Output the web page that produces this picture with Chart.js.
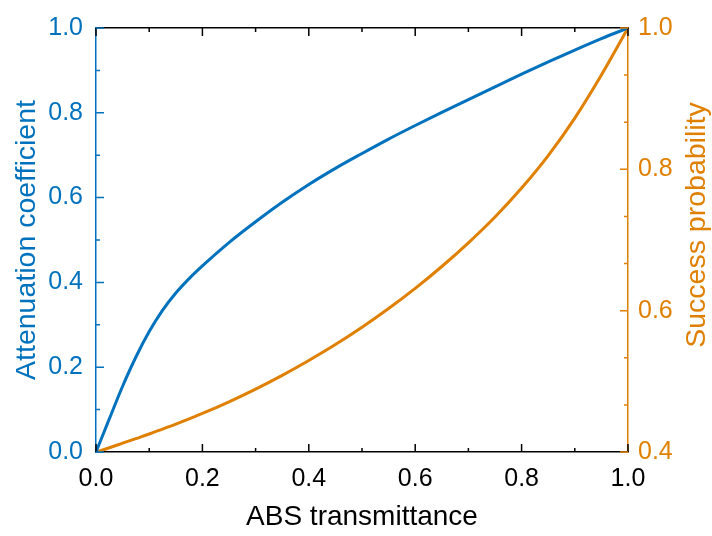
<!DOCTYPE html>
<html>
<head>
<meta charset="utf-8">
<script src="https://cdn.jsdelivr.net/npm/chart.js@4.4.1/dist/chart.umd.min.js"></script>
<style>
  html, body { margin: 0; padding: 0; background: #fff; }
  #wrap { width: 712px; height: 536px; position: relative; }
</style>
</head>
<body>
<div id="wrap"><canvas id="plot"></canvas></div>
<script>
// ABS transmittance (x axis)
const transmittance = [0, 0.025, 0.05, 0.075, 0.1, 0.125, 0.15, 0.175, 0.2, 0.25, 0.3, 0.35, 0.4, 0.45,
  0.5, 0.55, 0.6, 0.65, 0.7, 0.75, 0.8, 0.85, 0.9, 0.95, 1.0];
// left axis, blue
const attenuation = [0, 0.078, 0.155, 0.224, 0.284, 0.334, 0.375, 0.409, 0.439, 0.494, 0.543, 0.589, 0.631, 0.669,
  0.704, 0.738, 0.770, 0.801, 0.831, 0.861, 0.891, 0.920, 0.948, 0.975, 1.0];
// right axis, orange
const success = [0.4, 0.406, 0.4125, 0.419, 0.4255, 0.4325, 0.4395, 0.447, 0.4545, 0.471, 0.489, 0.5085, 0.5295, 0.552,
  0.5765, 0.603, 0.6315, 0.6625, 0.696, 0.7325, 0.7735, 0.8195, 0.8725, 0.9335, 1.0];

const xTicks = [0, 0.2, 0.4, 0.6, 0.8, 1.0];
const leftTicks = [0, 0.2, 0.4, 0.6, 0.8, 1.0];
const rightTicks = [0.4, 0.6, 0.8, 1.0];

const BLUE = "#0072BD";
const ORANGE = "#E08000";
const FONT = "'Liberation Sans', Arial, sans-serif";

const pts = ys => transmittance.map((x, i) => ({ x: x, y: ys[i] }));

// inward tick marks, major + minor
const innerTicks = {
  id: "innerTicks",
  afterDatasetsDraw(chart) {
    const { ctx, chartArea: a, scales } = chart;
    ctx.save();
    ctx.lineWidth = 1.5;
    const tick = (color, list, fn) => {
      ctx.strokeStyle = color;
      ctx.beginPath();
      list.forEach(t => fn(t));
      ctx.stroke();
    };
    const xs = [];
    for (let i = 0; i <= 10; i++) xs.push({ v: i / 10, len: i % 2 ? 4 : 8 });
    tick("#000", xs, t => {
      const px = scales.x.getPixelForValue(t.v);
      ctx.moveTo(px, a.bottom); ctx.lineTo(px, a.bottom - t.len);
      ctx.moveTo(px, a.top); ctx.lineTo(px, a.top + t.len);
    });
    tick(BLUE, xs, t => {
      const py = scales.y.getPixelForValue(t.v);
      ctx.moveTo(a.left, py); ctx.lineTo(a.left + t.len, py);
    });
    const rs = [];
    for (let i = 0; i <= 9; i++) rs.push({ v: 0.4 + i * 0.2 / 3, len: i % 3 ? 4 : 8 });
    tick(ORANGE, rs, t => {
      const py = scales.y1.getPixelForValue(t.v);
      ctx.moveTo(a.right, py); ctx.lineTo(a.right - t.len, py);
    });
    // right title reads bottom-to-top like the left one
    ctx.fillStyle = ORANGE;
    ctx.font = "28.5px " + FONT;
    ctx.textAlign = "center";
    ctx.textBaseline = "middle";
    ctx.translate(697, 225);
    ctx.rotate(-Math.PI / 2);
    ctx.fillText("Success probability", 0, 0);
    ctx.restore();
  }
};

const fix = (prop, val) => scale => { scale[prop] = val; };

new Chart(document.getElementById("plot"), {
  type: "line",
  data: {
    datasets: [
      {
        label: "Attenuation coefficient",
        data: pts(attenuation),
        yAxisID: "y",
        borderColor: BLUE,
        borderWidth: 3,
        pointRadius: 0,
        cubicInterpolationMode: "monotone"
      },
      {
        label: "Success probability",
        data: pts(success),
        yAxisID: "y1",
        borderColor: ORANGE,
        borderWidth: 3,
        pointRadius: 0,
        cubicInterpolationMode: "monotone"
      }
    ]
  },
  options: {
    responsive: true,
    maintainAspectRatio: false,
    animation: false,
    layout: { padding: 0 },
    plugins: { legend: { display: false }, tooltip: { enabled: false } },
    scales: {
      x: {
        type: "linear",
        position: "bottom",
        min: 0, max: 1,
        afterBuildTicks: s => { s.ticks = xTicks.map(v => ({ value: v })); },
        afterFit: fix("height", 84),
        grid: { display: false, drawTicks: false },
        border: { display: true, color: "#000", width: 1.5 },
        ticks: {
          color: "#000", padding: 12,
          font: { family: FONT, size: 25 },
          callback: v => v.toFixed(1)
        },
        title: {
          display: true, text: "ABS transmittance", color: "#000",
          font: { family: FONT, size: 28 }, padding: { bottom: 2 }
        }
      },
      x2: {
        type: "linear",
        position: "top",
        min: 0, max: 1,
        afterFit: fix("height", 24),
        grid: { display: false, drawTicks: false },
        border: { display: true, color: "#000", width: 1.5 },
        ticks: { display: false }
      },
      y: {
        type: "linear",
        position: "left",
        min: 0, max: 1,
        afterBuildTicks: s => { s.ticks = leftTicks.map(v => ({ value: v })); },
        afterFit: fix("width", 96),
        grid: { display: false, drawTicks: false },
        border: { display: true, color: BLUE, width: 1.5 },
        ticks: {
          color: BLUE, padding: 13,
          font: { family: FONT, size: 25 },
          callback: v => v.toFixed(1)
        },
        title: {
          display: true, text: "Attenuation coefficient", color: BLUE,
          font: { family: FONT, size: 28.5 }, padding: { top: 10 }
        }
      },
      y1: {
        type: "linear",
        position: "right",
        min: 0.4, max: 1,
        afterBuildTicks: s => { s.ticks = rightTicks.map(v => ({ value: v })); },
        afterFit: fix("width", 84),
        grid: { display: false, drawTicks: false },
        border: { display: true, color: ORANGE, width: 1.5 },
        ticks: {
          color: ORANGE, padding: 10,
          font: { family: FONT, size: 25 },
          callback: v => v.toFixed(1)
        }
      }
    }
  },
  plugins: [innerTicks]
});
</script>
</body>
</html>
